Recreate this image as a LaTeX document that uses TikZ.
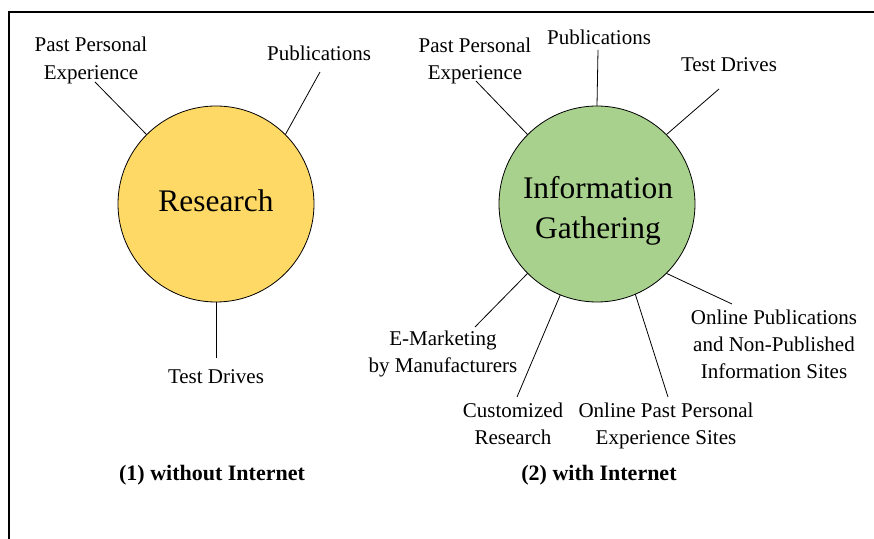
\documentclass[tikz,border=0pt]{standalone}
\usepackage{fontspec}
\setmainfont{Liberation Serif}
\definecolor{gold}{HTML}{FFD966}
\definecolor{leaf}{HTML}{A9D18E}
\tikzset{
	hub/.style={circle, draw=black, line width=0.4pt, minimum size=98pt, inner sep=0pt, outer sep=0pt},
	hubtext/.style={align=center, inner sep=0pt, font=\fontsize{15.7}{20}\selectfont},
	lbl/.style={align=center, inner sep=0pt, font=\fontsize{10.5}{13.5}\selectfont},
	capline/.style={inner sep=0pt, font=\fontsize{11}{13}\selectfont\bfseries},
	spoke/.style={line width=0.4pt}
}

\begin{document}
\begin{tikzpicture}[x=0.5pt, y=-0.5pt]
		%%%%% START %%%%%
		\useasboundingbox (0, 0) rectangle (874, 539);
		\draw[line width=1pt] (9, 539) -- (9, 12) -- (874, 12);
		
		% (1) without Internet
		\node[hub, fill=gold] (research) at (216, 204) {};
		\node[hubtext] (researchtxt) at (216, 201) {Research};
		\node[lbl, font=\fontsize{10.5}{14}\selectfont] (rppe) at (91, 60.5) {Past Personal\\Experience};
		\node[lbl] (rpub) at (319, 53) {Publications};
		\node[lbl] (rtd) at (216, 377) {Test Drives};
		\coordinate (rppeend) at (95, 82);
		\coordinate (rpubend) at (320, 72);
		\coordinate (rtdend) at (216, 358);
		\draw[spoke] (research.135) -- (rppeend);
		\draw[spoke] (research.45) -- (rpubend);
		\draw[spoke] (research.-90) -- (rtdend);
		\node[capline] (wout) at (212, 475) {(1) without Internet};
		
		% (2) with Internet
		\node[hub, fill=leaf] (gather) at (597, 204) {};
		\node[hubtext] (gathertxt) at (598, 210.5) {Information\\Gathering};
		\node[lbl] (gppe) at (475, 60.5) {Past Personal\\Experience};
		\node[lbl] (gpub) at (599, 37) {Publications};
		\node[lbl] (gtd) at (729, 65) {Test Drives};
		\node[lbl] (gopub) at (774, 344) {Online Publications\\and Non-Published\\Information Sites};
		\node[lbl] (gopast) at (666, 426) {Online Past Personal\\Experience Sites};
		\node[lbl] (gcust) at (513, 424) {Customized\\Research};
		\node[lbl] (gemk) at (443, 353.5) {E-Marketing\\by Manufacturers};
		\coordinate (gppeend) at (476, 81);
		\coordinate (gpubend) at (598, 50);
		\coordinate (gtdend) at (719, 89);
		\coordinate (gopubend) at (732, 304);
		\coordinate (gopastend) at (668, 397);
		\coordinate (gcustend) at (517, 397);
		\coordinate (gemkend) at (475, 327);
		\draw[spoke] (gather.135) -- (gppeend);
		\draw[spoke] (gather.90) -- (gpubend);
		\draw[spoke] (gather.45) -- (gtdend);
		\draw[spoke] (gather.-45) -- (gopubend);
		\draw[spoke] (gather.-67.5) -- (gopastend);
		\draw[spoke] (gather.-112.5) -- (gcustend);
		\draw[spoke] (gather.-135) -- (gemkend);
		\node[capline] (with) at (599, 475) {(2) with Internet};
		%%%%% END %%%%%
\end{tikzpicture}
\end{document}
